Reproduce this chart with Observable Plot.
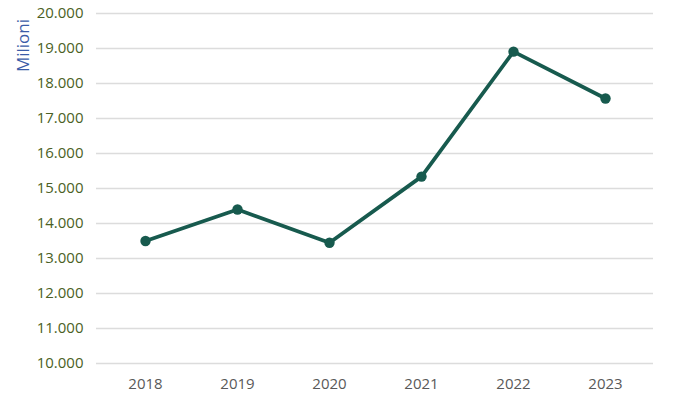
<!DOCTYPE html>
<html>
<head>
<meta charset="utf-8">
<script src="https://cdn.jsdelivr.net/npm/d3@7"></script>
<script src="https://cdn.jsdelivr.net/npm/@observablehq/plot@0.6"></script>
<style>
  body { margin: 0; background: #fff; }
  #chart svg { display: block; }
</style>
</head>
<body>
<div id="chart"></div>
<script>
const years = ["2018", "2019", "2020", "2021", "2022", "2023"];
const values = [13500, 14400, 13450, 15340, 18910, 17570];
const yTicks = [10000, 11000, 12000, 13000, 14000, 15000, 16000, 17000, 18000, 19000, 20000];
const yLabel = "Milioni";

const data = years.map((y, i) => ({year: y, value: values[i]}));
const fmt = d => d3.format(",")(d).replace(/,/g, ".");

const chart = Plot.plot({
  width: 686,
  height: 403,
  marginTop: 13,
  marginBottom: 40,
  marginLeft: 96,
  marginRight: 33,
  style: {fontFamily: "'Open Sans', sans-serif", fontSize: "14px", background: "#fff"},
  x: {type: "point", domain: years, padding: 0.5},
  y: {domain: [10000, 20000]},
  marks: [
    Plot.gridY(yTicks, {stroke: "#dcdcdc", strokeOpacity: 1, strokeWidth: 1.3}),
    Plot.axisY(yTicks, {tickSize: 0, tickPadding: 13, tickFormat: fmt, fill: "#4b5f25", fontSize: 15, label: null}),
    Plot.axisX({tickSize: 0, tickPadding: 15, fill: "#595959", fontSize: 15, label: null}),
    Plot.line(data, {x: "year", y: "value", stroke: "#175a4e", strokeWidth: 3.8}),
    Plot.dot(data, {x: "year", y: "value", r: 5.2, fill: "#175a4e"}),
    Plot.text([yLabel], {frameAnchor: "top-left", text: d => d, rotate: -90, dx: -80, dy: 32, fill: "#3a5ca8", fontSize: 17, textAnchor: "middle"})
  ]
});
document.getElementById("chart").appendChild(chart);
</script>
</body>
</html>
